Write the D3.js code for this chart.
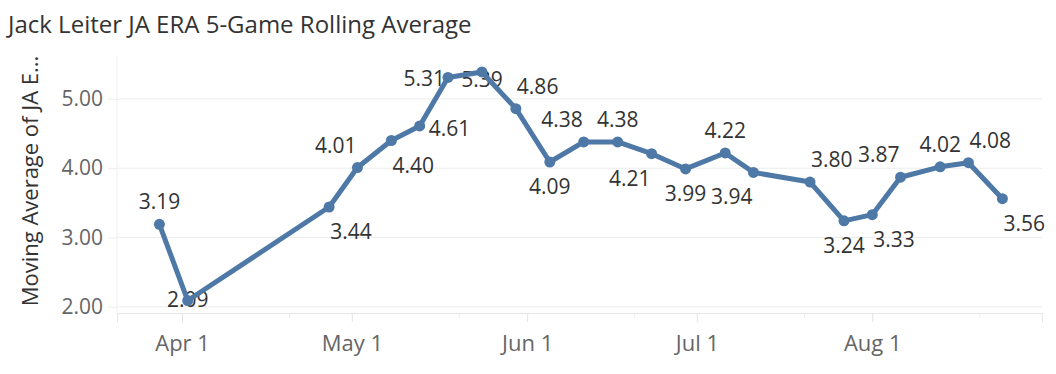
<!DOCTYPE html>
<html>
<head>
<meta charset="utf-8">
<script src="https://cdn.jsdelivr.net/npm/d3@7"></script>
<style>
  body { margin: 0; background: #fff; }
  svg { display: block; font-family: "Open Sans", sans-serif; }
</style>
</head>
<body>
<div id="chart"></div>
<script>
// game dates (2025 season) and the 5-game rolling JA ERA
const gameDates = [
  "2025-03-28", "2025-04-02", "2025-04-27", "2025-05-02", "2025-05-08",
  "2025-05-13", "2025-05-18", "2025-05-24", "2025-05-30", "2025-06-05",
  "2025-06-11", "2025-06-17", "2025-06-23", "2025-06-29", "2025-07-06",
  "2025-07-11", "2025-07-21", "2025-07-27", "2025-08-01", "2025-08-06",
  "2025-08-13", "2025-08-18", "2025-08-24"
];
const eraValues = [
  3.19, 2.09, 3.44, 4.01, 4.40, 4.61, 5.31, 5.39, 4.86, 4.09, 4.38, 4.38,
  4.21, 3.99, 4.22, 3.94, 3.80, 3.24, 3.33, 3.87, 4.02, 4.08, 3.56
];
// where each mark label sits relative to its point
const labelSpots = [
  "n", "c", "se", "nw", "se", "e", "w", "cs", "ne", "s", "nw", "n",
  "sw", "s", "n", "sw", "ne", "s", "se", "nw", "n", "ne", "se"
];
const yTicks = [2, 3, 4, 5];
const monthTicks = ["2025-04-01", "2025-05-01", "2025-06-01", "2025-07-01", "2025-08-01"];
const minorTicks = ["2025-04-20", "2025-05-20", "2025-06-20", "2025-07-20", "2025-08-20"];

const width = 1056;
const height = 374;
const lineColor = "#4e79a7";

const parse = d3.timeParse("%Y-%m-%d");
const data = gameDates.map((d, i) => ({ date: parse(d), value: eraValues[i], spot: labelSpots[i] }));

const svg = d3.select("#chart").append("svg")
  .attr("width", width)
  .attr("height", height);

const plot = { left: 117, right: 1042, top: 56, bottom: 313 };

const x = d3.scaleTime()
  .domain([new Date(2025, 2, 20, 12), new Date(2025, 7, 31)])
  .range([plot.left, plot.right]);

const y = d3.scaleLinear()
  .domain([1.91, 5.62])
  .range([plot.bottom, plot.top]);

// title
svg.append("text")
  .attr("x", 8)
  .attr("y", 33)
  .attr("font-size", 24)
  .attr("fill", "#333")
  .text("Jack Leiter JA ERA 5-Game Rolling Average");

// gridlines + y axis
const yAxis = svg.append("g")
  .attr("transform", `translate(${plot.left},0)`)
  .call(d3.axisLeft(y).tickValues(yTicks).tickFormat(d3.format(".2f"))
    .tickSize(9).tickPadding(5));
yAxis.select(".domain").remove();
yAxis.selectAll(".tick line").attr("stroke", "#ececec");
yAxis.selectAll(".tick text")
  .attr("font-size", 21)
  .attr("fill", "#666")
  .attr("font-family", "Open Sans, sans-serif");

svg.append("g")
  .selectAll("line")
  .data(yTicks)
  .join("line")
  .attr("x1", plot.left)
  .attr("x2", plot.right)
  .attr("y1", (d) => y(d))
  .attr("y2", (d) => y(d))
  .attr("stroke", "#ececec");

// left border
svg.append("line")
  .attr("x1", plot.left).attr("x2", plot.left)
  .attr("y1", plot.top).attr("y2", plot.bottom)
  .attr("stroke", "#f0f0f0");

// x axis
const xAxis = svg.append("g")
  .attr("transform", `translate(0,${plot.bottom})`)
  .call(d3.axisBottom(x).tickValues(monthTicks.map(parse))
    .tickFormat(d3.timeFormat("%b %-d")).tickSize(9).tickPadding(13));
xAxis.select(".domain").attr("stroke", "#e6e6e6");
xAxis.selectAll(".tick line").attr("stroke", "#e3e3e3");
xAxis.selectAll(".tick text")
  .attr("font-size", 22)
  .attr("fill", "#666")
  .attr("font-family", "Open Sans, sans-serif");

svg.append("g")
  .selectAll("line")
  .data(minorTicks.map(parse))
  .join("line")
  .attr("x1", (d) => x(d)).attr("x2", (d) => x(d))
  .attr("y1", plot.bottom).attr("y2", plot.bottom + 5)
  .attr("stroke", "#ececec");

// y axis title
svg.append("text")
  .attr("transform", "translate(38,181) rotate(-90)")
  .attr("text-anchor", "middle")
  .attr("font-size", 22)
  .attr("fill", "#333")
  .text("Moving Average of JA E...");

// mark labels (drawn under the line)
const spotStyle = {
  n: { dx: 0, dy: -15, anchor: "middle" },
  s: { dx: 0, dy: 32, anchor: "middle" },
  ne: { dx: 1, dy: -15, anchor: "start" },
  nw: { dx: -1, dy: -15, anchor: "end" },
  se: { dx: 1, dy: 32, anchor: "start" },
  sw: { dx: -1, dy: 32, anchor: "end" },
  e: { dx: 9, dy: 10, anchor: "start" },
  w: { dx: -3, dy: 9, anchor: "end" },
  c: { dx: 0, dy: 6, anchor: "middle" },
  cs: { dx: 0, dy: 15, anchor: "middle" }
};

svg.append("g")
  .selectAll("text")
  .data(data)
  .join("text")
  .attr("x", (d) => x(d.date) + spotStyle[d.spot].dx)
  .attr("y", (d) => y(d.value) + spotStyle[d.spot].dy)
  .attr("text-anchor", (d) => spotStyle[d.spot].anchor)
  .attr("font-size", 21)
  .attr("fill", "#333")
  .text((d) => d3.format(".2f")(d.value));

// line + points
const line = d3.line()
  .x((d) => x(d.date))
  .y((d) => y(d.value));

svg.append("path")
  .datum(data)
  .attr("fill", "none")
  .attr("stroke", lineColor)
  .attr("stroke-width", 5)
  .attr("stroke-linejoin", "round")
  .attr("d", line);

svg.append("g")
  .selectAll("circle")
  .data(data)
  .join("circle")
  .attr("cx", (d) => x(d.date))
  .attr("cy", (d) => y(d.value))
  .attr("r", 5.5)
  .attr("fill", lineColor);
</script>
</body>
</html>
